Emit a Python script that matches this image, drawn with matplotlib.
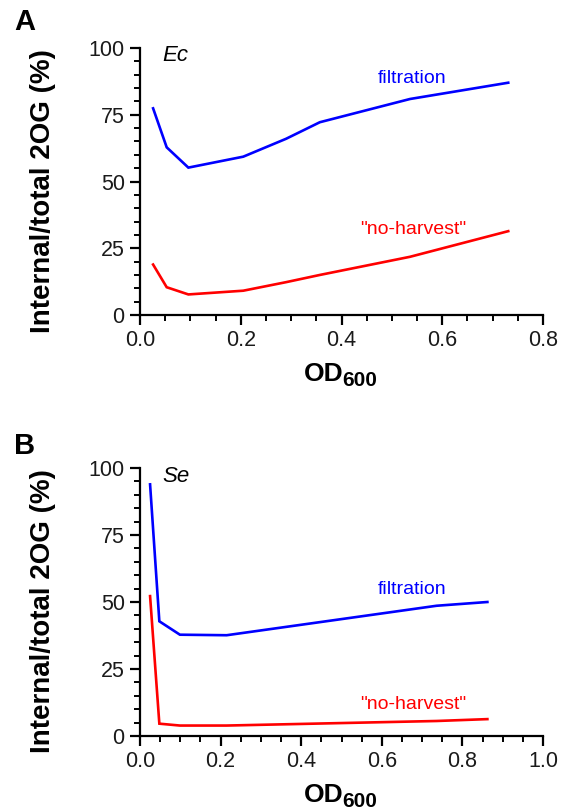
import matplotlib
matplotlib.use("Agg")
import matplotlib.pyplot as plt
from matplotlib.ticker import MultipleLocator, FormatStrFormatter

plt.rcParams['font.family'] = ['Liberation Sans', 'DejaVu Sans']

# Panel A (Ec)
ec_od = [0.026, 0.053, 0.096, 0.205, 0.29, 0.357, 0.536, 0.731]
ec_filtration = [77.4, 62.8, 55.2, 59.3, 66.0, 72.2, 80.9, 87.0]
ec_noharvest = [18.9, 10.4, 7.7, 9.1, 12.3, 15.0, 21.8, 31.4]

# Panel B (Se)
se_od = [0.025, 0.048, 0.099, 0.215, 0.736, 0.862]
se_filtration = [93.9, 42.8, 37.8, 37.6, 48.6, 50.0]
se_noharvest = [52.2, 4.6, 3.9, 3.9, 5.6, 6.3]

yticks = [0, 25, 50, 75, 100]

W, H = 561, 811
fig = plt.figure(figsize=(W / 100, H / 100), dpi=100)

def px_axes(left, right, top, bottom):
    return fig.add_axes([left / W, 1 - bottom / H, (right - left) / W, (bottom - top) / H])

axA = px_axes(140, 543, 48, 315)
axB = px_axes(140, 543, 468, 736)

BLUE = '#0000ff'
RED = '#ff0000'

def style(ax, xmax):
    ax.set_xlim(0, xmax)
    ax.set_ylim(0, 100)
    for s in ['top', 'right']:
        ax.spines[s].set_visible(False)
    for s in ['left', 'bottom']:
        ax.spines[s].set_linewidth(1.6)
    ax.set_yticks(yticks)
    ax.yaxis.set_minor_locator(MultipleLocator(5))
    ax.xaxis.set_major_locator(MultipleLocator(0.2))
    ax.xaxis.set_minor_locator(MultipleLocator(0.05))
    ax.xaxis.set_major_formatter(FormatStrFormatter('%.1f'))
    ax.tick_params(which='major', direction='out', length=7, width=1.6,
                   labelsize=15.5, pad=4, colors='black', labelcolor='#1a1a1a')
    ax.tick_params(which='minor', direction='out', length=4, width=1.4)
    ax.set_ylabel('Internal/total 2OG (%)', fontsize=20, fontweight='bold')
    ax.yaxis.set_label_coords(-0.208, 0.465)
    od = ax.text(0.505, -0.176, 'OD', transform=ax.transAxes, fontsize=19,
                 fontweight='bold', ha='right', va='top')
    ax.annotate('600', xy=(1.0, 0.0), xycoords=od, xytext=(-1, 0),
                textcoords='offset points', fontsize=15, fontweight='bold',
                ha='left', va='baseline')

style(axA, 0.8)
style(axB, 1.0)

axA.plot(ec_od, ec_filtration, color=BLUE, lw=1.9, solid_joinstyle='miter')
axA.plot(ec_od, ec_noharvest, color=RED, lw=1.9, solid_joinstyle='miter')
axA.text(0.044, 97.2, 'Ec', fontsize=16, style='italic', ha='left', va='center')
axA.text(0.54, 88.4, 'filtration', color=BLUE, fontsize=14, ha='center', va='center')
axA.text(0.542, 32.2, '"no-harvest"', color=RED, fontsize=14, ha='center', va='center')

axB.plot(se_od, se_filtration, color=BLUE, lw=1.9, solid_joinstyle='miter')
axB.plot(se_od, se_noharvest, color=RED, lw=1.9, solid_joinstyle='miter')
axB.text(0.055, 96.9, 'Se', fontsize=16, style='italic', ha='left', va='center')
axB.text(0.676, 54.5, 'filtration', color=BLUE, fontsize=14, ha='center', va='center')
axB.text(0.677, 11.8, '"no-harvest"', color=RED, fontsize=14, ha='center', va='center')

fig.text(25 / W, 1 - 22 / H, 'A', fontsize=21, fontweight='bold', ha='center', va='center')
fig.text(25 / W, 1 - 446 / H, 'B', fontsize=21, fontweight='bold', ha='center', va='center')

fig.savefig('out.png', dpi=100)
